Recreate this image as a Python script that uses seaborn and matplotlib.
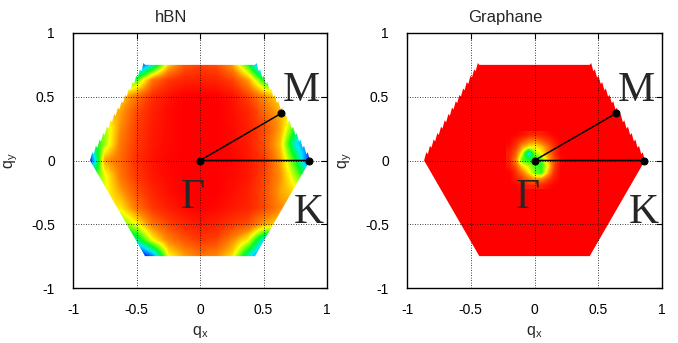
import numpy as np
import matplotlib
matplotlib.use('Agg')
import matplotlib.pyplot as plt
import seaborn as sns
from matplotlib.colors import LinearSegmentedColormap
from matplotlib.patches import Polygon

# grid nodes of the hBN map, top row first
qx_nodes = [-0.875, -0.75, -0.625, -0.5, -0.375, -0.25, -0.125, 0.0,
            0.125, 0.25, 0.375, 0.5, 0.625, 0.75, 0.875]
qy_nodes = [0.75, 0.625, 0.5, 0.375, 0.25, 0.125, 0.0,
            -0.125, -0.25, -0.375, -0.5, -0.625, -0.75]

hbn_map = [
    [0.10, 0.10, 0.05, 0.05, 0.30, 0.66, 0.82, 0.86, 0.84, 0.72, 0.45, 0.05, 0.05, 0.10, 0.10],
    [0.35, 0.40, 0.45, 0.50, 0.78, 0.88, 0.92, 0.93, 0.92, 0.86, 0.72, 0.45, 0.40, 0.35, 0.35],
    [0.60, 0.62, 0.66, 0.78, 0.90, 0.96, 1.00, 1.00, 1.00, 0.96, 0.86, 0.74, 0.65, 0.60, 0.60],
    [0.60, 0.66, 0.72, 0.85, 0.93, 0.98, 1.00, 1.00, 1.00, 0.97, 0.92, 0.80, 0.70, 0.62, 0.58],
    [0.50, 0.55, 0.75, 0.87, 0.94, 0.98, 1.00, 1.00, 1.00, 0.98, 0.93, 0.85, 0.72, 0.45, 0.40],
    [0.35, 0.55, 0.78, 0.88, 0.95, 0.98, 1.00, 1.00, 1.00, 0.98, 0.94, 0.84, 0.68, 0.30, 0.15],
    [0.05, 0.72, 0.80, 0.90, 0.96, 0.99, 1.00, 1.00, 1.00, 0.99, 0.95, 0.88, 0.72, 0.45, 0.05],
    [0.40, 0.60, 0.78, 0.88, 0.95, 0.98, 1.00, 1.00, 1.00, 0.98, 0.95, 0.86, 0.74, 0.55, 0.35],
    [0.55, 0.60, 0.72, 0.84, 0.92, 0.97, 1.00, 1.00, 1.00, 0.97, 0.93, 0.85, 0.72, 0.65, 0.60],
    [0.62, 0.62, 0.64, 0.78, 0.88, 0.94, 0.98, 1.00, 0.98, 0.95, 0.92, 0.85, 0.75, 0.70, 0.70],
    [0.50, 0.50, 0.50, 0.62, 0.78, 0.86, 0.92, 0.95, 0.93, 0.88, 0.84, 0.72, 0.65, 0.60, 0.60],
    [0.30, 0.30, 0.30, 0.38, 0.62, 0.76, 0.83, 0.88, 0.86, 0.75, 0.62, 0.30, 0.30, 0.30, 0.30],
    [0.05, 0.02, 0.00, 0.00, 0.20, 0.62, 0.72, 0.78, 0.75, 0.65, 0.35, 0.10, 0.10, 0.10, 0.10],
]

# graphane: flat (red) everywhere except a small spot around Gamma
gr_nodes = [-0.2, -0.15, -0.1, -0.05, 0.0, 0.05, 0.1, 0.15, 0.2]
gr_background = 1.0
gr_spot = [
    [1.00, 1.00, 0.97, 0.93, 0.93, 0.93, 0.97, 1.00, 1.00],
    [1.00, 0.93, 0.86, 0.78, 0.76, 0.82, 0.88, 0.95, 1.00],
    [0.97, 0.88, 0.72, 0.64, 0.62, 0.68, 0.78, 0.90, 1.00],
    [0.93, 0.82, 0.60, 0.30, 0.55, 0.62, 0.74, 0.88, 1.00],
    [0.93, 0.76, 0.50, 0.48, 0.40, 0.50, 0.68, 0.84, 0.97],
    [0.95, 0.84, 0.66, 0.58, 0.50, 0.47, 0.62, 0.86, 1.00],
    [1.00, 0.90, 0.78, 0.66, 0.52, 0.48, 0.70, 0.90, 1.00],
    [1.00, 0.95, 0.88, 0.80, 0.74, 0.76, 0.86, 0.95, 1.00],
    [1.00, 1.00, 0.97, 0.93, 0.93, 0.93, 0.97, 1.00, 1.00],
]

# high symmetry points and path
point_names = ['M', 'Γ', 'K']
point_qx = [0.64, 0.0, 0.855]
point_qy = [0.37, 0.0, 0.0]

zone_corner = 0.866   # hexagon vertex on the qx axis
ticks = [-1, -0.5, 0, 0.5, 1]
tick_labels = ['-1', '-0.5', '0', '0.5', '1']

sns.set_style('white')
plt.rcParams['font.family'] = ['Liberation Sans', 'DejaVu Sans']

cmap = LinearSegmentedColormap.from_list('bz', [
    (0.0, '#6a30ff'), (0.12, '#0030ff'), (0.30, '#00e8ff'), (0.45, '#00ff20'),
    (0.62, '#ffff00'), (0.75, '#ff8800'), (0.88, '#ff3800'), (1.0, '#ff0000')])


def toothed_edge(a, b, normal, n, depth, spike_at):
    a, b, normal = np.array(a), np.array(b), np.array(normal)
    pts = []
    for i in range(n):
        pts.append(tuple(a + (b - a) * i / n))
        pts.append(tuple(a + (b - a) * (i + spike_at) / n + normal * depth))
    return pts


def zone_outline(r, n_teeth=15, depth=0.02):
    # hexagon; the two upper slanted edges carry the saw-tooth rim of the raw map
    h = r * np.sqrt(3) / 2
    pts = toothed_edge((r, 0), (r / 2, h), (0.5, 0.866), n_teeth, depth, 0.95)
    pts += [(r / 2, h), (-r / 2, h)]
    pts += toothed_edge((-r / 2, h), (-r, 0), (-0.5, 0.866), n_teeth, depth, 0.05)
    pts += [(-r, 0.0), (-r / 2, -h), (r / 2, -h)]
    return pts


fig = plt.figure(figsize=(6.78, 3.43), dpi=100)
ax1 = fig.add_axes([73 / 678, 55 / 343, 254 / 678, 255 / 343])
ax2 = fig.add_axes([407 / 678, 55 / 343, 255 / 678, 255 / 343])

dx = (qx_nodes[1] - qx_nodes[0]) / 2
dy = (qy_nodes[0] - qy_nodes[1]) / 2
im = ax1.imshow(np.array(hbn_map), cmap=cmap, vmin=0, vmax=1, origin='upper',
                extent=[qx_nodes[0] - dx, qx_nodes[-1] + dx, qy_nodes[-1] - dy, qy_nodes[0] + dy],
                interpolation='bilinear', interpolation_stage='data', zorder=0)
im.set_clip_path(Polygon(zone_outline(zone_corner), closed=True, transform=ax1.transData))

ax2.add_patch(Polygon(zone_outline(zone_corner), closed=True, facecolor=cmap(gr_background),
                      edgecolor='none', zorder=0))
gd = (gr_nodes[1] - gr_nodes[0]) / 2
ax2.imshow(np.array(gr_spot), cmap=cmap, vmin=0, vmax=1, origin='upper',
           extent=[gr_nodes[0] - gd, gr_nodes[-1] + gd, gr_nodes[0] - gd, gr_nodes[-1] + gd],
           interpolation='bilinear', interpolation_stage='data', zorder=0.5)

for ax, title in [(ax1, 'hBN'), (ax2, 'Graphane')]:
    sns.lineplot(x=point_qx, y=point_qy, sort=False, estimator=None, color='black',
                 lw=1.1, marker='o', markersize=5, markeredgecolor='black', ax=ax, zorder=3)
    ax.text(0.65, 0.47, point_names[0], fontsize=30, family='Liberation Serif', zorder=4)
    ax.text(-0.15, -0.37, point_names[1], fontsize=30, family='Liberation Serif', zorder=4)
    ax.text(0.74, -0.49, point_names[2], fontsize=30, family='Liberation Serif', zorder=4)

    ax.set_xlim(-1, 1)
    ax.set_ylim(-1, 1)
    ax.set_aspect('auto')
    ax.set_xticks(ticks)
    ax.set_xticklabels(tick_labels)
    ax.set_yticks(ticks)
    ax.set_yticklabels(tick_labels)
    ax.tick_params(direction='in', length=4, width=0.8, labelsize=10,
                   top=True, right=True, colors='black')
    ax.tick_params(axis='x', pad=11)
    ax.tick_params(axis='y', pad=13)
    ax.set_axisbelow(False)
    ax.grid(True, color='black', linestyle=(0, (1, 2)), linewidth=0.6)
    for s in ax.spines.values():
        s.set_color('black')
        s.set_linewidth(1.0)
    ax.set_xlabel(r'q$_\mathregular{x}$', fontsize=11.5, labelpad=5)
    ax.set_ylabel(r'q$_\mathregular{y}$', fontsize=11.5, labelpad=8)
    ax.set_title(title, fontsize=12, x=0.385, pad=8)

fig.savefig('out.png', dpi=100)
